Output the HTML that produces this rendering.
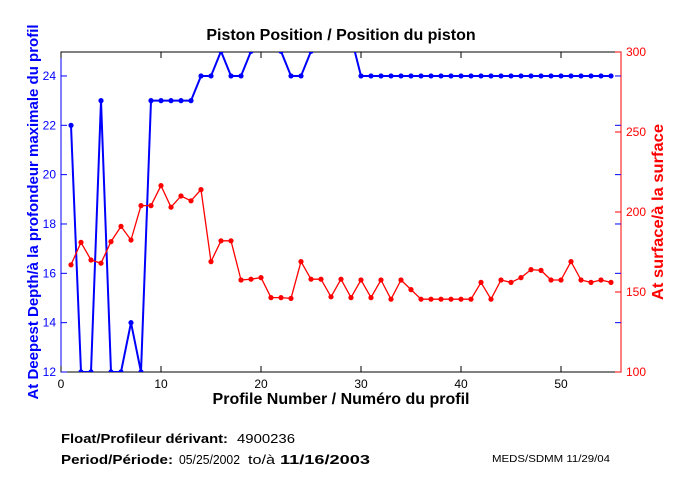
<!DOCTYPE html>
<html><head><meta charset="utf-8"><style>
html,body{margin:0;padding:0;background:#fff;width:680px;height:500px;overflow:hidden}
svg{display:block;font-family:"Liberation Sans",Arial,sans-serif}
</style></head><body>
<svg id="s" width="680" height="500" viewBox="0 0 680 500" xmlns="http://www.w3.org/2000/svg">
<defs><clipPath id="c"><rect x="61" y="52" width="560" height="320"/></clipPath></defs>
<text x="341" y="40" font-size="16" font-weight="bold" text-anchor="middle">Piston Position / Position du piston</text>
<g id="ax"></g>
<g id="data" clip-path="url(#c)"></g>
<text x="341" y="404" font-size="16" font-weight="bold" text-anchor="middle">Profile Number / Numéro du profil</text>
<text transform="translate(38,212) rotate(-90)" font-size="15" font-weight="bold" fill="#0000ff" text-anchor="middle">At Deepest Depth/à la profondeur maximale du profil</text>
<text transform="translate(663,212) rotate(-90)" font-size="16" font-weight="bold" fill="#ff0000" text-anchor="middle" textLength="176" lengthAdjust="spacingAndGlyphs">At surface/à la surface</text>
<text x="61" y="443" font-size="13" font-weight="bold" textLength="167" lengthAdjust="spacingAndGlyphs">Float/Profileur dérivant:</text>
<text x="237" y="443" font-size="13" textLength="58" lengthAdjust="spacingAndGlyphs">4900236</text>
<text x="61" y="464" font-size="13" font-weight="bold" textLength="112" lengthAdjust="spacingAndGlyphs">Period/Période:</text>
<text x="179" y="464" font-size="13" textLength="61" lengthAdjust="spacingAndGlyphs">05/25/2002</text>
<text x="248" y="464" font-size="13" textLength="27" lengthAdjust="spacingAndGlyphs">to/à</text>
<text x="280" y="464" font-size="13" font-weight="bold" textLength="90" lengthAdjust="spacingAndGlyphs">11/16/2003</text>
<text x="492" y="462" font-size="10" textLength="118" lengthAdjust="spacingAndGlyphs">MEDS/SDMM  11/29/04</text>
</svg>
<script>
const NS="http://www.w3.org/2000/svg",ax=document.getElementById('ax'),dg=document.getElementById('data');
function el(p,t,a){const e=document.createElementNS(NS,t);for(const k in a)e.setAttribute(k,a[k]);p.appendChild(e);return e;}
const X=n=>61+10*n, YL=v=>372-(v-12)*24.67, YR=v=>372-(v-100)*1.6;
el(ax,'rect',{x:61,y:52,width:560,height:320,fill:'none',stroke:'#000','stroke-width':1});
el(ax,'line',{x1:621,y1:52,x2:621,y2:372,stroke:'#f00'});
el(ax,'line',{x1:61,y1:52,x2:61,y2:372,stroke:'#00f'});
for(let n=0;n<=50;n+=10){el(ax,'line',{x1:X(n),y1:372,x2:X(n),y2:366,stroke:'#000'});el(ax,'line',{x1:X(n),y1:52,x2:X(n),y2:58,stroke:'#000'});
 const t=el(ax,'text',{x:X(n),y:388,'font-size':12,'text-anchor':'middle'});t.textContent=n;}
for(let v=12;v<=24;v+=2){const y=YL(v);el(ax,'line',{x1:61,y1:y,x2:67,y2:y,stroke:'#00f'});el(ax,'line',{x1:621,y1:y,x2:615,y2:y,stroke:'#00f'});
 const t=el(ax,'text',{x:56,y:y+4,'font-size':12,'text-anchor':'end',fill:'#00f'});t.textContent=v;}
for(let v=100;v<=300;v+=50){const y=YR(v);el(ax,'line',{x1:621,y1:y,x2:615,y2:y,stroke:'#f00'});
 const t=el(ax,'text',{x:626,y:y+4,'font-size':12,fill:'#f00'});t.textContent=v;}
const B=[22,12,12,23,12,12,14,12,23,23,23,23,23,24,24,25,24,24,25,30,30,25,24,24,25,30,30,30,25.6,24];
for(let i=31;i<=55;i++)B.push(24);
const R=[167,181,170,168,181.5,191,182.5,204,204,216.5,203,210,207,214,169,182,182,157.5,158,159,146.5,146.5,146,169,158,158,147,158,146.5,
157.5,146.5,157.5,145.5,157.5,151.5,145.5,145.5,145.5,145.5,145.5,145.5,156,145.5,157.5,156,159,164,163.5,157.5,157.5,169,157.5,156,157.5,156];
function series(vals,f,col,w,r){el(dg,'polyline',{points:vals.map((v,i)=>X(i+1)+','+f(v)).join(' '),fill:'none',stroke:col,'stroke-width':w,'stroke-linejoin':'round'});
 vals.forEach((v,i)=>el(dg,'circle',{cx:X(i+1),cy:f(v),r:r,fill:col}));}
series(B,YL,'#0000ff',2,2.6);
series(R,YR,'#ff0000',1.3,2.6);
</script>
</body></html>
